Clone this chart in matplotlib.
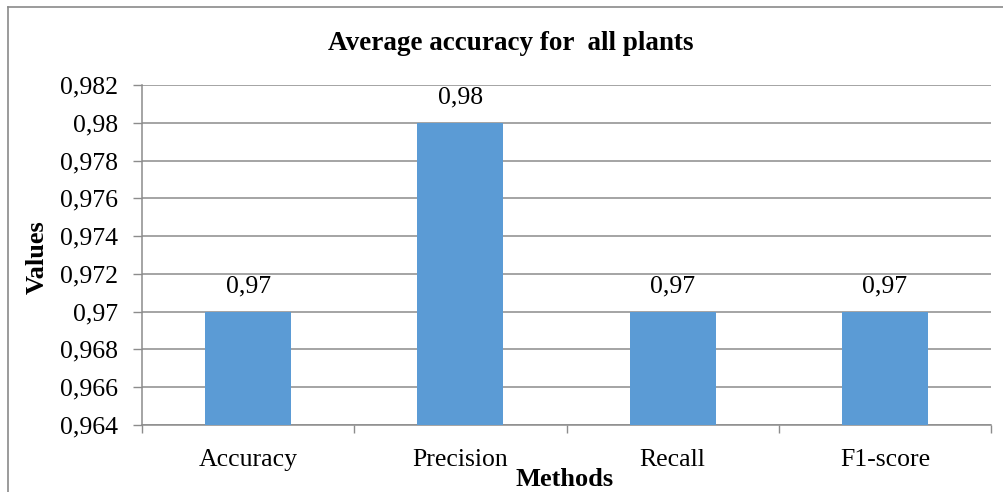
import matplotlib
matplotlib.use("Agg")
import matplotlib.pyplot as plt
from matplotlib.lines import Line2D
import numpy as np

categories = ["Accuracy", "Precision", "Recall", "F1-score"]
values = [0.97, 0.98, 0.97, 0.97]
value_labels = ["0,97", "0,98", "0,97", "0,97"]
y_ticks = [0.964, 0.966, 0.968, 0.970, 0.972, 0.974, 0.976, 0.978, 0.980, 0.982]
y_tick_labels = ["0,964", "0,966", "0,968", "0,97", "0,972", "0,974", "0,976", "0,978", "0,98", "0,982"]

plt.rcParams['font.family'] = ['Liberation Serif', 'DejaVu Serif']

W, H = 1004, 492
fig = plt.figure(figsize=(W / 100, H / 100), dpi=100)
fig.patch.set_facecolor("white")

ax = fig.add_axes([142 / W, 1 - 425 / H, (991 - 142) / W, (425 - 85) / H])
x = np.arange(len(categories))
bar_color = "#5B9BD5"
grid_color = "#8C8C8C"

ax.bar(x, values, width=0.405, color=bar_color, zorder=3)
ax.set_xlim(-0.5, len(categories) - 0.5)
ax.set_ylim(y_ticks[0], y_ticks[-1])

ax.set_yticks(y_ticks)
ax.set_yticklabels(y_tick_labels, fontsize=18.5)
ax.yaxis.grid(True, color=grid_color, linewidth=1.1, zorder=0)
ax.tick_params(axis="y", length=6.5, width=1, color=grid_color, pad=11)

ax.set_xticks(x)
ax.set_xticklabels(categories, fontsize=18.5)
ax.tick_params(axis="x", which="major", length=0, pad=17)
ax.set_xticks(np.arange(-0.5, len(categories), 1.0), minor=True)
ax.tick_params(axis="x", which="minor", length=6, width=1, color=grid_color)

for s in ["top", "right"]:
    ax.spines[s].set_visible(False)
for s in ["left", "bottom"]:
    ax.spines[s].set_color(grid_color)
    ax.spines[s].set_linewidth(1.1)

for xi, v, lab in zip(x, values, value_labels):
    ax.annotate(lab, (xi, v), xytext=(0, 10), textcoords="offset points",
                ha="center", va="bottom", fontsize=18.5, zorder=4)

fig.text(511 / W, 1 - 44 / H, "Average accuracy for  all plants", ha="center", va="center",
         fontsize=19.5, fontweight="bold")
fig.text(37 / W, 1 - 257 / H, "Values", rotation=90, ha="center", va="center",
         fontsize=19, fontweight="bold")
fig.text(565 / W, 1 - 479 / H, "Methods", ha="center", va="center",
         fontsize=19, fontweight="bold")

border = "#8A8A8A"
fig.add_artist(Line2D([8 / W, 8 / W], [0, 1 - 7 / H], transform=fig.transFigure,
                      color=border, linewidth=1.2))
fig.add_artist(Line2D([8 / W, 1], [1 - 7 / H, 1 - 7 / H], transform=fig.transFigure,
                      color=border, linewidth=1.2))

fig.savefig("out.png", dpi=100)
